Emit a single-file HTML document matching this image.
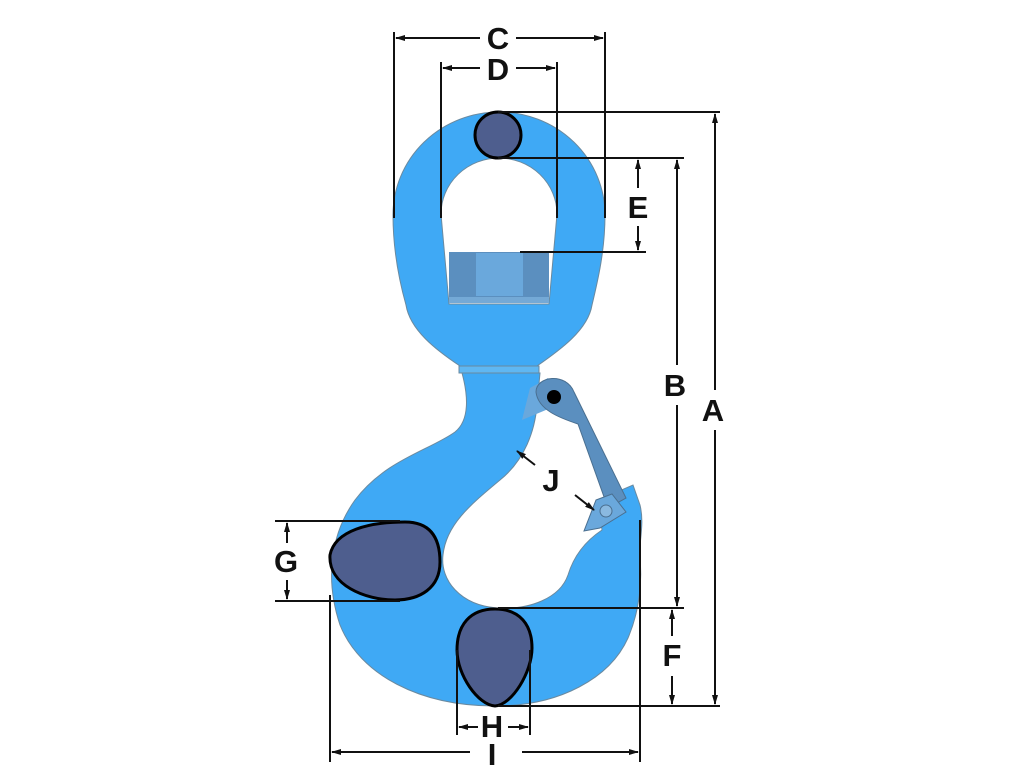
<!DOCTYPE html>
<html><head><meta charset="utf-8"><style>
html,body{margin:0;padding:0;background:#fff;width:1024px;height:768px;overflow:hidden}
svg text{font-family:"Liberation Sans",sans-serif;font-weight:bold;font-size:31px;fill:#111}
</style></head><body>
<svg width="1024" height="768" viewBox="0 0 1024 768" xmlns="http://www.w3.org/2000/svg">
<defs>
<marker id="ar" markerWidth="10" markerHeight="8" refX="9" refY="4" orient="auto" markerUnits="userSpaceOnUse"><path d="M0,1 L10,4 L0,7 z" fill="#111"/></marker>
</defs>
<!-- eye -->
<path d="M393,215 A106,103 0 0 1 605,215 C605,250 598,280 592,305 C588,330 560,350 537,366 L460,366 C436,350 410,330 406,305 C399,280 393,250 393,215 Z" fill="#3fa9f5" stroke="#6a8aa0" stroke-width="1"/>
<path d="M441,214 A58,56 0 0 1 557,214 L549,304 L449,304 Z" fill="#fff" stroke="#6a8aa0" stroke-width="1"/>
<rect x="449" y="252" width="100" height="45" fill="#5b8fbf"/>
<rect x="476" y="253" width="47" height="43" fill="#6aa8dc"/>
<rect x="449" y="297" width="100" height="6" fill="#74a9d6"/>
<!-- neck collar -->
<rect x="459" y="366" width="80" height="7" fill="#5fb7f2" stroke="#6a8aa0" stroke-width="1"/>
<!-- hook body -->
<path d="M462,373 C468,395 470,420 455,432 C430,450 385,460 355,500 C330,535 325,580 340,625 C360,675 420,706 495,706 C560,706 610,678 628,638 C640,610 642,580 640,560 C638,545 645,525 640,505 L633,485 L598,500 L602,530 C590,538 575,552 568,575 C560,598 530,610 497,608 C460,605 440,580 443,555 C446,525 470,505 500,480 C525,460 535,430 537,405 L540,373 Z" fill="#3fa9f5" stroke="#6a8aa0" stroke-width="1"/>
<!-- latch -->
<path d="M530,388 L548,378 L565,402 L522,420 Z" fill="#6aa8dc"/>
<path d="M536,392 C536,376 566,372 574,392 L626,498 L608,508 L578,424 C560,418 538,410 536,392 Z" fill="#5b8fbf" stroke="#4a6f90" stroke-width="1"/>
<path d="M596,500 L612,494 L626,512 L600,528 L584,531 Z" fill="#6aa8dc" stroke="#4a6f90" stroke-width="1"/>
<circle cx="606" cy="511" r="6" fill="#8ab9e0" stroke="#4a6f90" stroke-width="1"/>
<circle cx="554" cy="397" r="7" fill="#000"/>
<!-- pin circle -->
<circle cx="498" cy="135" r="23" fill="#4e5e8e" stroke="#000" stroke-width="3"/>
<!-- G egg -->
<path d="M330,555 C335,530 370,522 405,522 C432,522 440,540 440,562 C440,588 420,600 395,600 C365,600 328,585 330,555 Z" fill="#4e5e8e" stroke="#000" stroke-width="3"/>
<!-- H egg -->
<path d="M495,609 C520,609 532,625 532,648 C532,672 512,705 495,706 C478,705 457,675 457,650 C457,625 470,609 495,609 Z" fill="#4e5e8e" stroke="#000" stroke-width="3"/>
<g stroke="#111" stroke-width="2" fill="none">
<line x1="394" y1="32" x2="394" y2="218"/><line x1="605" y1="32" x2="605" y2="218"/>
<line x1="480" y1="38" x2="396" y2="38" marker-end="url(#ar)"/><line x1="516" y1="38" x2="603" y2="38" marker-end="url(#ar)"/>
<line x1="441" y1="62" x2="441" y2="218"/><line x1="557" y1="62" x2="557" y2="218"/>
<line x1="480" y1="68" x2="443" y2="68" marker-end="url(#ar)"/><line x1="516" y1="68" x2="555" y2="68" marker-end="url(#ar)"/>
<line x1="498" y1="112" x2="720" y2="112"/>
<line x1="498" y1="158" x2="684" y2="158"/>
<line x1="520" y1="252" x2="646" y2="252"/>
<line x1="498" y1="608" x2="684" y2="608"/>
<line x1="498" y1="706" x2="720" y2="706"/>
<line x1="715" y1="390" x2="715" y2="114" marker-end="url(#ar)"/><line x1="715" y1="430" x2="715" y2="704" marker-end="url(#ar)"/>
<line x1="677" y1="365" x2="677" y2="160" marker-end="url(#ar)"/><line x1="677" y1="405" x2="677" y2="606" marker-end="url(#ar)"/>
<line x1="638" y1="188" x2="638" y2="160" marker-end="url(#ar)"/><line x1="638" y1="226" x2="638" y2="250" marker-end="url(#ar)"/>
<line x1="672" y1="636" x2="672" y2="610" marker-end="url(#ar)"/><line x1="672" y1="676" x2="672" y2="704" marker-end="url(#ar)"/>
<line x1="275" y1="521" x2="400" y2="521"/><line x1="275" y1="601" x2="400" y2="601"/>
<line x1="287" y1="543" x2="287" y2="523" marker-end="url(#ar)"/><line x1="287" y1="580" x2="287" y2="599" marker-end="url(#ar)"/>
<line x1="457" y1="650" x2="457" y2="735"/><line x1="530" y1="650" x2="530" y2="735"/>
<line x1="478" y1="727" x2="459" y2="727" marker-end="url(#ar)"/><line x1="508" y1="727" x2="528" y2="727" marker-end="url(#ar)"/>
<line x1="330" y1="595" x2="330" y2="762"/><line x1="640" y1="520" x2="640" y2="762"/>
<line x1="470" y1="752" x2="332" y2="752" marker-end="url(#ar)"/><line x1="522" y1="752" x2="638" y2="752" marker-end="url(#ar)"/>
<line x1="535" y1="465" x2="517" y2="451" marker-end="url(#ar)"/>
<line x1="575" y1="495" x2="594" y2="510" marker-end="url(#ar)"/>
</g>
<text x="498" y="49" text-anchor="middle">C</text>
<text x="498" y="80" text-anchor="middle">D</text>
<text x="638" y="218" text-anchor="middle">E</text>
<text x="713" y="421" text-anchor="middle">A</text>
<text x="675" y="396" text-anchor="middle">B</text>
<text x="672" y="666" text-anchor="middle">F</text>
<text x="286" y="572" text-anchor="middle">G</text>
<text x="492" y="737" text-anchor="middle">H</text>
<text x="492" y="765" text-anchor="middle">I</text>
<text x="551" y="491" text-anchor="middle">J</text>
</svg>
</body></html>
